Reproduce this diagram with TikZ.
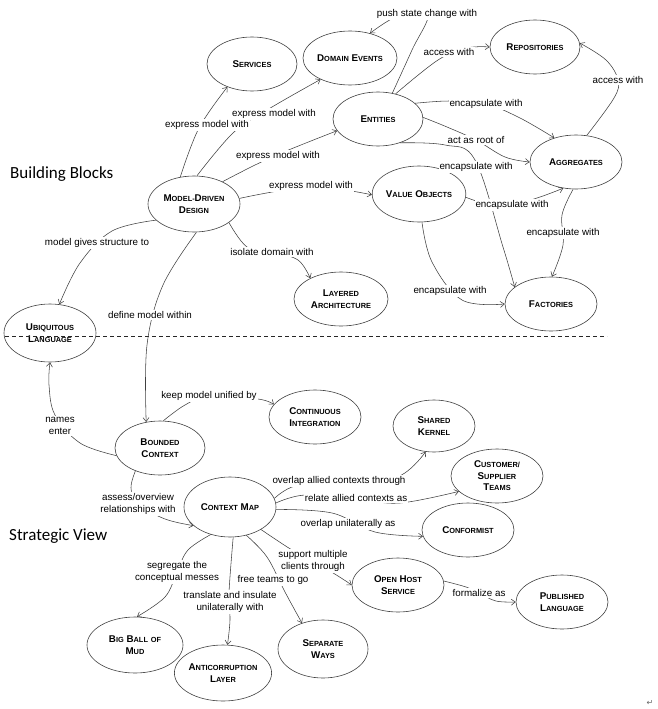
\documentclass[tikz,border=0pt]{standalone}
\usepackage{fontspec}
\setmainfont{Liberation Sans}
\newfontfamily\titlefont{Carlito}
\newfontfamily\symfont{DejaVu Sans}
\usetikzlibrary{shapes.geometric,arrows.meta}
\newcommand\SC[2]{{\fontsize{9.8}{11.5}\selectfont #1}{\fontsize{7.4}{11.5}\selectfont #2}}
\begin{document}
\begin{tikzpicture}[x=1pt,y=-1pt,
  pat/.style={ellipse, draw=black!75, line width=0.6pt, align=center,
    font=\bfseries\fontsize{9.8}{11.5}\selectfont, inner sep=0pt},
  sz/.style 2 args={minimum width=#1pt, minimum height=#2pt},
  lab/.style={fill=white, inner sep=1pt, align=center, font=\fontsize{9.8}{12}\selectfont},
  arr/.style={draw=black!75, line width=0.55pt, -{Straight Barb[length=4pt,width=6pt]}},
  ttl/.style={anchor=west, inner sep=0pt, font=\titlefont\fontsize{17}{20}\selectfont},
]
\useasboundingbox (0,0) rectangle (657,709);

% ---------- nodes ----------
\node[pat,sz={90}{54}] (srv) at (252,64) {\SC{S}{ERVICES}};
\node[pat,sz={94}{54}] (dev) at (350,58) {\SC{D}{OMAIN} \SC{E}{VENTS}};
\node[pat,sz={90}{54}] (rep) at (535,47) {\SC{R}{EPOSITORIES}};
\node[pat,sz={90}{54}] (ent) at (378,119) {\SC{E}{NTITIES}};
\node[pat,sz={92}{54}] (agg) at (576,162) {\SC{A}{GGREGATES}};
\node[pat,sz={92}{56}] (vo) at (419,194) {\SC{V}{ALUE} \SC{O}{BJECTS}};
\node[pat,sz={92}{56}] (mdd) at (194,204) {\SC{M}{ODEL-}\SC{D}{RIVEN}\\\SC{D}{ESIGN}};
\node[pat,sz={94}{54}] (lay) at (341,299) {\SC{L}{AYERED}\\\SC{A}{RCHITECTURE}};
\node[pat,sz={92}{54}] (fac) at (551,304) {\SC{F}{ACTORIES}};
\node[pat,sz={92}{58}] (ubi) at (50,333) {\SC{U}{BIQUITOUS}\\\SC{L}{ANGUAGE}};
\node[pat,sz={92}{54}] (ci) at (315,417) {\SC{C}{ONTINUOUS}\\\SC{I}{NTEGRATION}};
\node[pat,sz={90}{54}] (bc) at (160,448) {\SC{B}{OUNDED}\\\SC{C}{ONTEXT}};
\node[pat,sz={82}{52}] (sk) at (434,426) {\SC{S}{HARED}\\\SC{K}{ERNEL}};
\node[pat,sz={92}{54}] (cst) at (497,476) {\SC{C}{USTOMER/}\\\SC{S}{UPPLIER}\\\SC{T}{EAMS}};
\node[pat,sz={92}{54}] (con) at (468,530) {\SC{C}{ONFORMIST}};
\node[pat,sz={92}{60}] (cm) at (230,507) {\SC{C}{ONTEXT} \SC{M}{AP}};
\node[pat,sz={92}{54}] (ohs) at (398,585) {\SC{O}{PEN} \SC{H}{OST}\\\SC{S}{ERVICE}};
\node[pat,sz={92}{54}] (pl) at (562,602) {\SC{P}{UBLISHED}\\\SC{L}{ANGUAGE}};
\node[pat,sz={96}{56}] (bbm) at (135,645) {\SC{B}{IG} \SC{B}{ALL} \SC{}{OF}\\\SC{M}{UD}};
\node[pat,sz={96}{56}] (acl) at (223,673) {\SC{A}{NTICORRUPTION}\\\SC{L}{AYER}};
\node[pat,sz={90}{58}] (sep) at (323,649) {\SC{S}{EPARATE}\\\SC{W}{AYS}};

\node[ttl] (tbb) at (10,174) {Building Blocks};
\node[ttl] (tsv) at (9,536) {Strategic View};

% ---------- dashed divider ----------
\coordinate (dl) at (5,336);
\coordinate (dr) at (607,336);
\draw[black!85, line width=0.9pt, dash pattern=on 4pt off 3pt] (dl) -- (dr);

% ---------- connectors ----------
\draw[arr] plot[smooth,tension=0.6] coordinates {(mdd.117) (199,128) (srv.223)};
\draw[arr] plot[smooth,tension=0.6] coordinates {(mdd.84) (233,133) (267,110) (dev.216)};
\draw[arr] plot[smooth,tension=0.6] coordinates {(mdd.38) (272,157) (ent.196)};
\draw[arr] plot[smooth,tension=0.6] coordinates {(mdd.7) (311,187) (vo.181)};
\draw[arr] plot[smooth,tension=0.6] coordinates {(mdd.332) (247,247) (272,252) (298,260) (lay.146)};
\draw[arr] plot[smooth,tension=0.6] coordinates {(mdd.203) (112,231) (80,263) (ubi.72)};
\draw[arr] plot[smooth,tension=0.6] coordinates {(mdd.275) (163,285) (147,345) (bc.118)};
\draw[arr] plot[smooth,tension=0.6] coordinates {(ent.61) (412,50) (428,14) (398,16) (dev.51)};
\draw[arr] plot[smooth,tension=0.6] coordinates {(ent.55) (438,60) (467,48) (rep.180)};
\draw[arr] plot[smooth,tension=0.6] coordinates {(agg.68) (614,98) (618,80) (606,60) (rep.5)};
\draw[arr] plot[smooth,tension=0.6] coordinates {(ent.23) (450,101) (486,104) (520,118) (agg.132)};
\draw[arr] plot[smooth,tension=0.6] coordinates {(ent.2) (447,127) (476,140) (505,157) (agg.180)};
\draw[arr] plot[smooth,tension=0.6] coordinates {(ent.313) (445,145) (475,160) (503,247) (fac.155)};
\draw[arr] plot[smooth,tension=0.6] coordinates {(vo.356) (490,205) (512,205) (540,197) (agg.244)};
\draw[arr] plot[smooth,tension=0.6] coordinates {(agg.264) (562,215) (563,245) (fac.88)};
\draw[arr] plot[smooth,tension=0.6] coordinates {(vo.276) (432,262) (462,300) (fac.180)};
\draw[arr] plot[smooth,tension=0.6] coordinates {(bc.190) (80,443) (55,415) (49,385) (ubi.270)};
\draw[arr] plot[smooth,tension=0.6] coordinates {(bc.83) (185,405) (209,396) (258,399) (ci.163)};
\draw[arr] plot[smooth,tension=0.6] coordinates {(bc.223) (131,488) (138,504) (165,519) (cm.207)};
\draw[arr] plot[smooth,tension=0.6] coordinates {(cm.11) (295,486) (339,481) (397,477) (sk.252)};
\draw[arr] plot[smooth,tension=0.6] coordinates {(cm.5) (305,495) (356,499) (400,503) (cst.202)};
\draw[arr] plot[smooth,tension=0.6] coordinates {(cm.357) (332,513) (375,532) (con.188)};
\draw[arr] plot[smooth,tension=0.6] coordinates {(cm.324) (292,550) (313,561) (338,576) (ohs.180)};
\draw[arr] plot[smooth,tension=0.6] coordinates {(ohs.5) (466,587) (479,593) (496,601) (pl.180)};
\draw[arr] plot[smooth,tension=0.6] coordinates {(cm.235) (188,550) (177,572) (165,597) (bbm.86)};
\draw[arr] plot[smooth,tension=0.6] coordinates {(cm.276) (229,593) (230,620) (acl.81)};
\draw[arr] plot[smooth,tension=0.6] coordinates {(cm.300) (267,557) (285,592) (sep.129)};

% ---------- labels ----------
\node[lab] (l1) at (207,125) {express model with};
\node[lab] (l2) at (274,114) {express model with};
\node[lab] (l3) at (278,156) {express model with};
\node[lab] (l4) at (311,186) {express model with};
\node[lab] (l5) at (272,252) {isolate domain with};
\node[lab] (l6) at (97,243) {model gives structure to};
\node[lab] (l7) at (150,315) {define model within};
\node[lab] (l8) at (427,14) {push state change with};
\node[lab] (l9) at (449,52) {access with};
\node[lab] (l10) at (618,80) {access with};
\node[lab] (l11) at (486,104) {encapsulate with};
\node[lab] (l12) at (476,140) {act as root of};
\node[lab] (l13) at (476,167) {encapsulate with};
\node[lab] (l14) at (512,205) {encapsulate with};
\node[lab] (l15) at (563,233) {encapsulate with};
\node[lab] (l16) at (450,291) {encapsulate with};
\node[lab] (l17) at (60,426) {names\\enter};
\node[lab] (l18) at (209,396) {keep model unified by};
\node[lab] (l19) at (138,504) {assess/overview\\relationships with};
\node[lab] (l20) at (339,481) {overlap allied contexts through};
\node[lab] (l21) at (356,498) {relate allied contexts as};
\node[lab] (l22) at (348,524) {overlap unilaterally as};
\node[lab] (l23) at (313,561) {support multiple\\clients through};
\node[lab] (l24) at (479,593) {formalize as};
\node[lab] (l25) at (177,572) {segregate the\\conceptual messes};
\node[lab] (l26) at (230,602) {translate and insulate\\unilaterally with};
\node[lab] (l27) at (273,580) {free teams to go};

\node[font=\symfont\fontsize{8}{8}\selectfont, text=black!60, inner sep=0pt] (ret) at (650,703) {↵};
\end{tikzpicture}
\end{document}
